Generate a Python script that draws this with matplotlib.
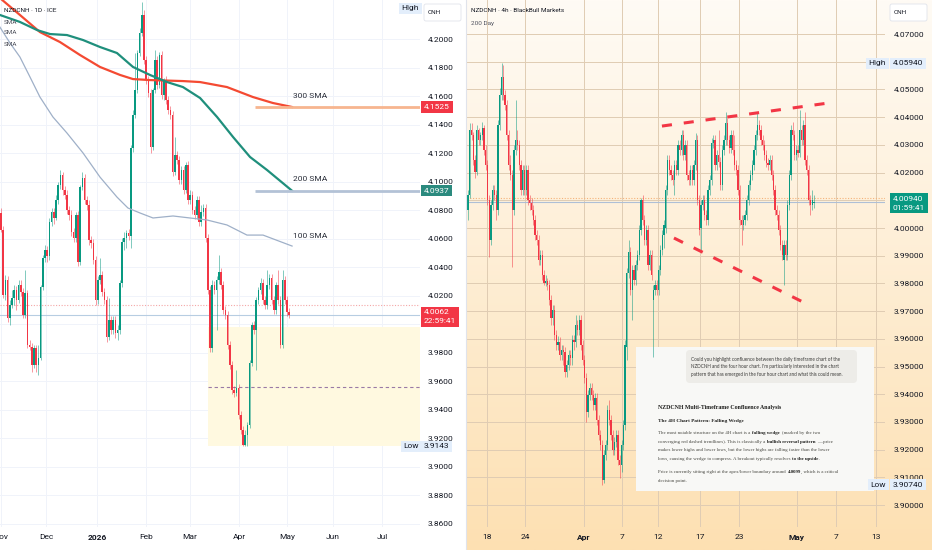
import numpy as np
import matplotlib
matplotlib.use("Agg")
import matplotlib.pyplot as plt
import matplotlib.transforms as mtransforms
from matplotlib.patches import Rectangle, FancyBboxPatch
from matplotlib.lines import Line2D

# ---------------- daily chart (left), one value per bar ----------------
d_open = [4.0781, 4.0661, 4.0205, 4.0310, 4.0044, 4.0135, 4.0184, 4.0240, 4.0170, 4.0275,
          4.0226, 4.0065, 4.0219, 3.9854, 3.9840, 3.9714, 3.9833, 3.9714, 3.9763, 4.0261,
          4.0465, 4.0521, 4.0479, 4.0718, 4.0788, 4.0746, 4.0872, 4.0977, 4.1047, 4.0942,
          4.0907, 4.0802, 4.0767, 4.0647, 4.0605, 4.0767, 4.0437, 4.0963, 4.1026, 4.0872,
          4.0837, 4.0591, 4.0570, 4.0451, 4.0170, 4.0310, 4.0345, 4.0226, 4.0170, 3.9910,
          4.0030, 3.9959, 4.0030, 3.9938, 3.9959, 4.0289, 4.0577, 4.0605, 4.0640, 4.0619,
          4.1237, 4.1469, 4.1644, 4.1904, 4.2044, 4.2171, 4.1855, 4.1714, 4.1623, 4.1244,
          4.1644, 4.1855, 4.1679, 4.1890, 4.1609, 4.1714, 4.1574, 4.1504, 4.1469, 4.1069,
          4.1188, 4.1153, 4.1012, 4.1083, 4.0942, 4.1118, 4.0872, 4.0907, 4.0802, 4.0767,
          4.0872, 4.0718, 4.0788, 4.0816, 4.0605, 4.0240, 3.9833, 4.0275, 4.0240, 4.0310,
          4.0367, 4.0275, 4.0100, 4.0065, 3.9854, 3.9714, 3.9538, 3.9517, 3.9552, 3.9363,
          3.9257, 3.9152, 3.9222, 3.9292, 3.9728, 3.9994, 3.9959, 4.0170, 4.0240, 4.0289,
          4.0170, 4.0135, 4.0275, 4.0324, 4.0170, 4.0100, 4.0275, 4.0170, 3.9854, 4.0310,
          4.0170, 4.0086]
d_high = [4.0816, 4.0689, 4.0345, 4.0338, 4.0170, 4.0240, 4.0275, 4.0268, 4.0310, 4.0310,
          4.0254, 4.0381, 4.0240, 3.9889, 3.9868, 3.9854, 3.9854, 3.9854, 4.0275, 4.0486,
          4.0556, 4.0549, 4.0746, 4.0816, 4.0816, 4.0907, 4.0998, 4.1083, 4.1069, 4.0970,
          4.0942, 4.0830, 4.0802, 4.0675, 4.0788, 4.0795, 4.0977, 4.1069, 4.1055, 4.0900,
          4.0872, 4.0619, 4.0598, 4.0479, 4.0338, 4.0465, 4.0374, 4.0254, 4.0198, 4.0184,
          4.0058, 4.0058, 4.0058, 3.9994, 4.0310, 4.0605, 4.0647, 4.0661, 4.0668, 4.1258,
          4.1504, 4.1904, 4.1925, 4.2079, 4.2262, 4.2206, 4.1883, 4.1742, 4.1651, 4.1658,
          4.1925, 4.1883, 4.1911, 4.1918, 4.1728, 4.1742, 4.1602, 4.1532, 4.1497, 4.1314,
          4.1216, 4.1181, 4.1111, 4.1111, 4.1139, 4.1146, 4.0942, 4.0935, 4.0830, 4.0900,
          4.0900, 4.0837, 4.0844, 4.0844, 4.0633, 4.0268, 4.0310, 4.0303, 4.0338, 4.0486,
          4.0395, 4.0303, 4.0128, 4.0093, 3.9882, 3.9742, 3.9566, 3.9679, 3.9580, 3.9391,
          3.9285, 3.9257, 3.9314, 3.9749, 4.0016, 4.0023, 4.0191, 4.0261, 4.0324, 4.0317,
          4.0198, 4.0381, 4.0353, 4.0353, 4.0198, 4.0296, 4.0381, 4.0198, 4.0381, 4.0338,
          4.0198, 4.0114]
d_low = [4.0647, 4.0184, 4.0170, 4.0016, 3.9994, 4.0114, 4.0135, 4.0100, 4.0149, 4.0198,
         4.0044, 4.0044, 3.9833, 3.9819, 3.9665, 3.9693, 3.9665, 3.9643, 3.9749, 4.0240,
         4.0437, 4.0437, 4.0451, 4.0689, 4.0704, 4.0732, 4.0844, 4.0949, 4.0907, 4.0879,
         4.0774, 4.0732, 4.0619, 4.0577, 4.0577, 4.0409, 4.0416, 4.0942, 4.0844, 4.0802,
         4.0556, 4.0535, 4.0423, 4.0135, 4.0142, 4.0282, 4.0198, 4.0142, 3.9875, 3.9889,
         3.9931, 3.9931, 3.9903, 3.9889, 3.9931, 4.0261, 4.0521, 4.0535, 4.0591, 4.0535,
         4.1209, 4.1448, 4.1623, 4.1883, 4.2023, 4.1827, 4.1686, 4.1595, 4.1202, 4.1223,
         4.1623, 4.1651, 4.1658, 4.1581, 4.1574, 4.1546, 4.1476, 4.1441, 4.1040, 4.1047,
         4.1125, 4.0984, 4.0984, 4.0914, 4.0921, 4.0844, 4.0844, 4.0774, 4.0739, 4.0739,
         4.0689, 4.0689, 4.0760, 4.0577, 4.0212, 3.9805, 3.9805, 4.0212, 3.9959, 4.0282,
         4.0247, 4.0072, 4.0037, 3.9826, 3.9686, 3.9510, 3.9489, 3.9496, 3.9335, 3.9229,
         3.9143, 3.9143, 3.9145, 3.9271, 3.9707, 3.9931, 3.9679, 4.0142, 4.0212, 4.0142,
         4.0107, 4.0107, 4.0247, 4.0142, 4.0072, 4.0072, 4.0142, 3.9833, 3.9833, 4.0142,
         4.0058, 4.0044]
d_close = [4.0661, 4.0205, 4.0310, 4.0044, 4.0135, 4.0184, 4.0240, 4.0170, 4.0275, 4.0226,
           4.0065, 4.0219, 3.9854, 3.9840, 3.9714, 3.9833, 3.9714, 3.9763, 4.0261, 4.0465,
           4.0521, 4.0479, 4.0718, 4.0788, 4.0746, 4.0872, 4.0977, 4.1047, 4.0942, 4.0907,
           4.0802, 4.0767, 4.0647, 4.0605, 4.0767, 4.0437, 4.0963, 4.1026, 4.0872, 4.0837,
           4.0591, 4.0570, 4.0451, 4.0170, 4.0310, 4.0345, 4.0226, 4.0170, 3.9910, 4.0030,
           3.9959, 4.0030, 3.9938, 3.9959, 4.0289, 4.0577, 4.0605, 4.0640, 4.0619, 4.1237,
           4.1469, 4.1644, 4.1904, 4.2044, 4.2171, 4.1855, 4.1714, 4.1623, 4.1244, 4.1644,
           4.1855, 4.1679, 4.1890, 4.1609, 4.1714, 4.1574, 4.1504, 4.1469, 4.1069, 4.1188,
           4.1153, 4.1012, 4.1083, 4.0942, 4.1118, 4.0872, 4.0907, 4.0802, 4.0767, 4.0872,
           4.0718, 4.0788, 4.0816, 4.0605, 4.0240, 3.9833, 4.0275, 4.0240, 4.0310, 4.0367,
           4.0275, 4.0100, 4.0065, 3.9854, 3.9714, 3.9538, 3.9517, 3.9552, 3.9363, 3.9257,
           3.9152, 3.9222, 3.9292, 3.9728, 3.9994, 3.9959, 4.0170, 4.0240, 4.0289, 4.0170,
           4.0135, 4.0275, 4.0324, 4.0170, 4.0100, 4.0275, 4.0170, 3.9854, 4.0310, 4.0170,
           4.0086, 4.0062]

# moving averages (bar index, price)
sma300_x = [-0.5, 8.6, 17.7, 26.8, 35.9, 45.0, 54.1, 60.0, 67.7, 82.7, 90.5, 102.7, 114.5, 123.6, 132.3]
sma300_y = [4.2290, 4.2171, 4.2051, 4.1981, 4.1890, 4.1806, 4.1750, 4.1721, 4.1714, 4.1707, 4.1700,
            4.1665, 4.1595, 4.1553, 4.1525]
sma200_x = [-0.5, 8.6, 16.4, 22.3, 30.0, 37.3, 45.0, 52.7, 60.0, 67.7, 75.5, 82.7, 90.5, 98.2,
            105.5, 113.2, 120.9, 132.3]
sma200_y = [4.2171, 4.2122, 4.2065, 4.2037, 4.2030, 4.1995, 4.1946, 4.1904, 4.1806, 4.1750, 4.1700,
            4.1665, 4.1588, 4.1455, 4.1314, 4.1174, 4.1083, 4.0937]
sma100_x = [-0.5, 4.1, 8.6, 13.2, 17.7, 23.6, 30.0, 37.3, 45.0, 52.7, 57.7, 63.2, 69.1, 78.2, 85.9,
            93.6, 102.7, 111.8, 119.1, 132.3]
sma100_y = [4.2086, 4.1974, 4.1876, 4.1735, 4.1595, 4.1455, 4.1342, 4.1202, 4.1033, 4.0893, 4.0816,
            4.0781, 4.0746, 4.0760, 4.0746, 4.0732, 4.0697, 4.0626, 4.0626, 4.0549]
sma_last = {"300 SMA": 4.1525, "200 SMA": 4.0937, "100 SMA": 4.0549}

d_last, d_prev = 4.0062, 4.0135
d_zone_start, d_zone_top, d_zone_low = 94.1, 3.9980, 3.9143
d_month_pos = [-0.2, 20.5, 43.6, 65.9, 85.9, 108.2, 130.0, 151.0, 173.2]
d_month_lbl = ["Nov", "Dec", "2026", "Feb", "Mar", "Apr", "May", "Jun", "Jul"]

# ---------------- 4h chart (right) ----------------
h_open = [4.0065, 4.0119, 4.0354, 4.0336, 4.0245, 4.0202, 4.0354, 4.0318, 4.0336, 4.0361,
          4.0282, 4.0227, 4.0101, 3.9957, 4.0083, 4.0137, 4.0119, 4.0065, 4.0372, 4.0480,
          4.0545, 4.0480, 4.0444, 4.0336, 4.0227, 4.0191, 4.0065, 4.0282, 4.0318, 4.0300,
          4.0227, 4.0137, 4.0209, 4.0137, 4.0209, 4.0101, 4.0090, 4.0065, 4.0029, 3.9975,
          3.9957, 3.9884, 3.9903, 3.9830, 3.9801, 3.9809, 3.9794, 3.9740, 3.9675, 3.9704,
          3.9614, 3.9578, 3.9588, 3.9542, 3.9560, 3.9552, 3.9480, 3.9505, 3.9542, 3.9531,
          3.9596, 3.9588, 3.9650, 3.9632, 3.9668, 3.9578, 3.9523, 3.9458, 3.9336, 3.9397,
          3.9422, 3.9397, 3.9361, 3.9386, 3.9307, 3.9253, 3.9217, 3.9090, 3.9181, 3.9217,
          3.9343, 3.9307, 3.9253, 3.9199, 3.9227, 3.9253, 3.9162, 3.9144, 3.9217, 3.9289,
          3.9570, 3.9838, 3.9913, 3.9776, 3.9848, 3.9812, 3.9866, 3.9903, 3.9993, 4.0101,
          4.0029, 3.9957, 3.9993, 3.9866, 3.9903, 3.9740, 3.9776, 3.9794, 3.9776, 3.9848,
          3.9921, 3.9975, 4.0000, 4.0137, 4.0245, 4.0209, 4.0191, 4.0173, 4.0227, 4.0209,
          4.0300, 4.0282, 4.0336, 4.0264, 4.0300, 4.0191, 4.0173, 4.0209, 4.0173, 4.0227,
          4.0318, 4.0101, 4.0000, 4.0083, 4.0101, 4.0047, 4.0029, 4.0137, 4.0173, 4.0307,
          4.0318, 4.0227, 4.0264, 4.0238, 4.0155, 4.0282, 4.0318, 4.0379, 4.0318, 4.0289,
          4.0336, 4.0282, 4.0227, 4.0209, 4.0137, 4.0029, 4.0011, 4.0029, 4.0047, 4.0101,
          4.0155, 4.0191, 4.0227, 4.0282, 4.0336, 4.0372, 4.0354, 4.0318, 4.0300, 4.0264,
          4.0235, 4.0227, 4.0245, 4.0191, 4.0137, 4.0065, 4.0047, 3.9993, 3.9939, 3.9884,
          3.9939, 3.9903, 4.0083, 4.0191, 4.0354, 4.0336, 4.0264, 4.0282, 4.0271, 4.0354,
          4.0318, 4.0372, 4.0245, 4.0209, 4.0101, 4.0083, 4.0090]
h_high = [4.0137, 4.0379, 4.0379, 4.0347, 4.0264, 4.0372, 4.0361, 4.0347, 4.0383, 4.0372,
          4.0300, 4.0245, 4.0119, 4.0101, 4.0155, 4.0155, 4.0137, 4.0390, 4.0505, 4.0594,
          4.0588, 4.0498, 4.0462, 4.0354, 4.0264, 4.0209, 4.0300, 4.0462, 4.0354, 4.0318,
          4.0245, 4.0227, 4.0227, 4.0227, 4.0227, 4.0119, 4.0108, 4.0083, 4.0047, 3.9993,
          3.9975, 3.9921, 3.9921, 3.9848, 3.9830, 3.9820, 3.9812, 3.9758, 3.9722, 3.9722,
          3.9632, 3.9610, 3.9606, 3.9578, 3.9578, 3.9570, 3.9523, 3.9560, 3.9560, 3.9614,
          3.9614, 3.9686, 3.9668, 3.9686, 3.9686, 3.9596, 3.9541, 3.9476, 3.9415, 3.9440,
          3.9440, 3.9415, 3.9404, 3.9404, 3.9325, 3.9271, 3.9235, 3.9199, 3.9235, 3.9361,
          3.9379, 3.9325, 3.9271, 3.9245, 3.9271, 3.9271, 3.9180, 3.9235, 3.9307, 3.9596,
          3.9856, 3.9957, 3.9931, 3.9866, 3.9866, 3.9884, 3.9921, 4.0011, 4.0108, 4.0119,
          4.0047, 4.0011, 4.0011, 3.9921, 3.9921, 3.9794, 3.9812, 3.9812, 3.9866, 3.9939,
          3.9993, 4.0029, 4.0155, 4.0264, 4.0264, 4.0227, 4.0209, 4.0245, 4.0245, 4.0318,
          4.0318, 4.0354, 4.0354, 4.0318, 4.0318, 4.0209, 4.0227, 4.0227, 4.0245, 4.0343,
          4.0336, 4.0119, 4.0101, 4.0119, 4.0119, 4.0065, 4.0155, 4.0191, 4.0325, 4.0336,
          4.0336, 4.0282, 4.0354, 4.0256, 4.0300, 4.0336, 4.0419, 4.0397, 4.0336, 4.0354,
          4.0354, 4.0336, 4.0245, 4.0227, 4.0155, 4.0047, 4.0047, 4.0065, 4.0119, 4.0173,
          4.0209, 4.0245, 4.0300, 4.0354, 4.0415, 4.0390, 4.0372, 4.0336, 4.0318, 4.0282,
          4.0253, 4.0264, 4.0264, 4.0209, 4.0155, 4.0083, 4.0065, 4.0011, 3.9957, 3.9957,
          3.9957, 4.0101, 4.0209, 4.0372, 4.0383, 4.0354, 4.0300, 4.0300, 4.0426, 4.0372,
          4.0390, 4.0419, 4.0264, 4.0227, 4.0119, 4.0137, 4.0119]
h_low = [4.0029, 4.0108, 4.0318, 4.0227, 4.0181, 4.0191, 4.0300, 4.0300, 4.0318, 4.0264,
         4.0209, 4.0083, 3.9895, 3.9939, 4.0065, 4.0101, 4.0029, 4.0047, 4.0354, 4.0462,
         4.0462, 4.0426, 4.0318, 4.0209, 4.0173, 3.9859, 4.0047, 4.0264, 4.0282, 4.0209,
         4.0119, 4.0119, 4.0119, 4.0119, 4.0083, 4.0065, 4.0047, 4.0011, 3.9957, 3.9939,
         3.9866, 3.9866, 3.9812, 3.9794, 3.9790, 3.9776, 3.9722, 3.9650, 3.9650, 3.9596,
         3.9560, 3.9560, 3.9523, 3.9523, 3.9505, 3.9462, 3.9462, 3.9487, 3.9505, 3.9505,
         3.9560, 3.9570, 3.9614, 3.9614, 3.9560, 3.9505, 3.9440, 3.9300, 3.9318, 3.9379,
         3.9379, 3.9343, 3.9343, 3.9289, 3.9235, 3.9199, 3.9074, 3.9080, 3.9163, 3.9199,
         3.9289, 3.9235, 3.9181, 3.9181, 3.9209, 3.9144, 3.9097, 3.9120, 3.9199, 3.9271,
         3.9523, 3.9820, 3.9758, 3.9668, 3.9794, 3.9794, 3.9848, 3.9884, 3.9975, 4.0011,
         3.9939, 3.9939, 3.9848, 3.9848, 3.9812, 3.9534, 3.9758, 3.9758, 3.9758, 3.9830,
         3.9903, 3.9928, 3.9982, 4.0119, 4.0191, 4.0173, 4.0155, 4.0119, 4.0191, 4.0191,
         4.0264, 4.0264, 4.0245, 4.0245, 4.0173, 4.0155, 4.0155, 4.0155, 4.0155, 4.0209,
         4.0083, 3.9975, 3.9921, 4.0065, 4.0029, 4.0011, 4.0011, 4.0119, 4.0155, 4.0289,
         4.0209, 4.0209, 4.0220, 4.0137, 4.0137, 4.0264, 4.0300, 4.0300, 4.0271, 4.0271,
         4.0264, 4.0209, 4.0191, 4.0119, 4.0011, 3.9939, 3.9993, 4.0011, 4.0029, 4.0083,
         4.0137, 4.0173, 4.0209, 4.0264, 4.0318, 4.0336, 4.0300, 4.0282, 4.0245, 4.0220,
         4.0209, 4.0209, 4.0173, 4.0119, 4.0047, 4.0029, 3.9975, 3.9921, 3.9884, 3.9794,
         3.9884, 3.9884, 4.0065, 4.0173, 4.0318, 4.0245, 4.0245, 4.0256, 4.0256, 4.0300,
         4.0300, 4.0227, 4.0191, 4.0083, 4.0047, 4.0065, 4.0072]
h_close = [4.0119, 4.0354, 4.0336, 4.0245, 4.0202, 4.0354, 4.0318, 4.0336, 4.0361, 4.0282,
           4.0227, 4.0101, 3.9957, 4.0083, 4.0137, 4.0119, 4.0065, 4.0372, 4.0480, 4.0545,
           4.0480, 4.0444, 4.0336, 4.0227, 4.0191, 4.0065, 4.0282, 4.0318, 4.0300, 4.0227,
           4.0137, 4.0209, 4.0137, 4.0209, 4.0101, 4.0090, 4.0065, 4.0029, 3.9975, 3.9957,
           3.9884, 3.9903, 3.9830, 3.9801, 3.9809, 3.9794, 3.9740, 3.9675, 3.9704, 3.9614,
           3.9578, 3.9588, 3.9542, 3.9560, 3.9552, 3.9480, 3.9505, 3.9542, 3.9531, 3.9596,
           3.9588, 3.9650, 3.9632, 3.9668, 3.9578, 3.9523, 3.9458, 3.9336, 3.9397, 3.9422,
           3.9397, 3.9361, 3.9386, 3.9307, 3.9253, 3.9217, 3.9090, 3.9181, 3.9217, 3.9343,
           3.9307, 3.9253, 3.9199, 3.9227, 3.9253, 3.9162, 3.9144, 3.9217, 3.9289, 3.9578,
           3.9838, 3.9913, 3.9776, 3.9848, 3.9812, 3.9866, 3.9903, 3.9993, 4.0101, 4.0029,
           3.9957, 3.9993, 3.9866, 3.9903, 3.9830, 3.9776, 3.9794, 3.9776, 3.9848, 3.9921,
           3.9975, 4.0011, 4.0137, 4.0245, 4.0209, 4.0191, 4.0173, 4.0227, 4.0209, 4.0300,
           4.0282, 4.0336, 4.0264, 4.0300, 4.0191, 4.0173, 4.0209, 4.0173, 4.0227, 4.0318,
           4.0101, 3.9993, 4.0083, 4.0101, 4.0047, 4.0029, 4.0137, 4.0173, 4.0307, 4.0318,
           4.0227, 4.0264, 4.0238, 4.0155, 4.0282, 4.0318, 4.0379, 4.0318, 4.0289, 4.0336,
           4.0282, 4.0227, 4.0209, 4.0137, 4.0029, 4.0011, 4.0029, 4.0047, 4.0101, 4.0155,
           4.0191, 4.0227, 4.0282, 4.0336, 4.0372, 4.0354, 4.0318, 4.0300, 4.0264, 4.0235,
           4.0227, 4.0245, 4.0191, 4.0137, 4.0065, 4.0047, 3.9993, 3.9939, 3.9903, 3.9939,
           3.9903, 4.0083, 4.0191, 4.0354, 4.0336, 4.0264, 4.0282, 4.0271, 4.0354, 4.0318,
           4.0372, 4.0245, 4.0209, 4.0101, 4.0083, 4.0101, 4.0094]

h_last, h_prev = 4.0094, 4.0108
h_high_val, h_low_val = 4.0594, 3.9074
wedge_upper_x, wedge_upper_y = [109.9, 204.0], [4.0368, 4.0451]
wedge_lower_x, wedge_lower_y = [116.7, 189.8], [3.9964, 3.9733]
h_day_pos = [10.8, 32.3, 65.7, 87.3, 107.6, 131.4, 153.5, 186.4, 208.5, 231.2]
h_day_lbl = ["18", "24", "Apr", "7", "12", "17", "23", "May", "7", "13"]

# ---------------- chat overlay text ----------------
user_lines = ["Could you highlight confluence between the daily timeframe chart of the",
              "NZDCNH and the four hour chart. I'm particularly interested in the chart",
              "pattern that has emerged in the four hour chart and what this could mean."]
answer_title = "NZDCNH Multi-Timeframe Confluence Analysis"
answer_sub = "The 4H Chart Pattern: Falling Wedge"
answer_lines = [
    [("The most notable structure on the 4H chart is a ", False), ("falling wedge", True),
     (" (marked by the two", False)],
    [("converging red dashed trendlines). This is classically a ", False),
     ("bullish reversal pattern", True), (" \u2014 price", False)],
    [("makes lower highs and lower lows, but the lower highs are falling faster than the lower", False)],
    [("lows, causing the wedge to compress. A breakout typically resolves ", False),
     ("to the upside", True), (".", False)],
    [("Price is currently sitting right at the apex/lower boundary around ", False), ("4.0099", True),
     (", which is a critical", False)],
    [("decision point.", False)],
]

W, H = 932, 550
UP, DOWN = "#089981", "#f23645"
TXT = "#131722"
plt.rcParams['font.family'] = ['Roboto', 'DejaVu Sans']

fig = plt.figure(figsize=(W / 100, H / 100), dpi=100)
fig.patch.set_facecolor("white")
# pixel coordinates, origin at the top left of the picture
PX = mtransforms.Affine2D().scale(1 / W, -1 / H).translate(0, 1) + fig.transFigure


def draw_candles(ax, o, h, l, c, width):
    o, h, l, c = (np.asarray(v) for v in (o, h, l, c))
    x = np.arange(len(c))
    col = np.where(c >= o, UP, DOWN)
    ax.vlines(x, l, h, colors=col, lw=0.6, alpha=0.6, zorder=3)
    body = np.maximum(np.abs(c - o), 0.0004)
    ax.bar(x, body, bottom=np.minimum(o, c), width=width, color=col, lw=0, zorder=4)


def tag(ax, y, txt, fc, tc, dx, ha="left", va="center", dy=0, size=6):
    tr = mtransforms.offset_copy(ax.get_yaxis_transform(), fig=fig, x=dx, y=dy, units="dots")
    ax.text(1, y, txt, transform=tr, ha=ha, va=va, fontsize=size, color=tc, linespacing=1.55,
            bbox=dict(boxstyle="square,pad=0.32", fc=fc, ec="none"), zorder=10, clip_on=False)


def style_axes(ax, yticks, fmt, xpos, xlbl, bold, gridcol, pad_y):
    for s in ax.spines.values():
        s.set_visible(False)
    ax.yaxis.tick_right()
    ax.set_yticks(yticks)
    ax.set_yticklabels([fmt % v for v in yticks])
    ax.set_xticks(xpos)
    ax.set_xticklabels(xlbl)
    for t in ax.get_xticklabels():
        if t.get_text() in bold:
            t.set_fontweight("bold")
    ax.tick_params(axis="y", length=0, pad=pad_y, labelsize=6, labelcolor=TXT)
    ax.tick_params(axis="x", length=0, pad=5, labelsize=6, labelcolor=TXT)
    ax.grid(True, color=gridcol, lw=0.7, zorder=0)
    ax.set_axisbelow(True)


# right half background gradient
bg = fig.add_axes([467 / W, 0, 1 - 467 / W, 1])
grad = np.linspace([255, 251, 245], [253, 224, 178], 256)[:, None, :] / 255.0
bg.imshow(grad, aspect="auto", extent=[0, 1, 0, 1])
bg.axis("off")
fig.add_artist(Line2D([466, 466], [0, H], transform=PX, color="#e0e3eb", lw=0.8))

# ================= left: daily chart =================
ax1 = fig.add_axes([0, 23 / H, 420 / W, 527 / H])
ax1.set_facecolor("white")
ax1.set_xlim(-0.45, 190.45)
ax1.set_ylim(3.8577, 4.2276)
style_axes(ax1, np.round(np.arange(3.86, 4.2001, 0.02), 2), "%.4f", d_month_pos, d_month_lbl,
           {"2026"}, "#f0f3fa", 5.5)

ax1.add_patch(Rectangle((d_zone_start, d_zone_low), 190.45 - d_zone_start, d_zone_top - d_zone_low,
                        fc="#fff9e0", ec="none", zorder=1))
ax1.hlines((d_zone_top + d_zone_low) / 2, d_zone_start, 190.45, color="#9a7aa6", lw=0.8,
           ls=(0, (3, 2.5)), zorder=2)
ax1.axhline(d_prev, color="#f4a7a7", lw=0.8, ls=(0, (1, 1.5)), zorder=2)
ax1.axhline(d_last, color="#b7cde2", lw=0.8, zorder=2)

draw_candles(ax1, d_open, d_high, d_low, d_close, 0.7)

ax1.plot(sma100_x, sma100_y, color="#9fb0c8", lw=0.9, zorder=5)
ax1.plot(sma300_x, sma300_y, color="#f44a32", lw=1.6, zorder=5)
ax1.plot(sma200_x, sma200_y, color="#1f8f7c", lw=1.6, zorder=5)
ax1.hlines(sma_last["300 SMA"], 115.5, 190.45, color="#f7b58f", lw=2, zorder=5)
ax1.hlines(sma_last["200 SMA"], 115.5, 190.45, color="#b3c2d6", lw=2, zorder=5)
for name, yv, dyv in [("300 SMA", sma_last["300 SMA"], 0.0077),
                      ("200 SMA", sma_last["200 SMA"], 0.0080),
                      ("100 SMA", sma_last["100 SMA"], 0.0070)]:
    ax1.text(132.8, yv + dyv, name, fontsize=6, color="#2a2e39", va="center", ha="left", zorder=6)

tag(ax1, sma_last["300 SMA"], "4.1525", "#f23645", "white", 4)
tag(ax1, sma_last["200 SMA"], "4.0937", "#2b8a7e", "white", 4)
tag(ax1, d_last, "4.0062\n22:59:41", "#f23645", "white", 4, va="top", dy=6)
tag(ax1, d_zone_low, "Low", "#e3eefb", TXT, -1, ha="right")
tag(ax1, d_zone_low, "3.9143", "#e3eefb", TXT, 4)
ax1.text(419, 8, "High", transform=PX, ha="right", va="center", fontsize=6, color=TXT,
         bbox=dict(boxstyle="square,pad=0.3", fc="#e3eefb", ec="none"), zorder=10, clip_on=False)

fig.text(4 / W, 1 - 11 / H, "NZDCNH \u00b7 1D \u00b7 ICE", fontsize=4.6, color=TXT, va="center")
for yy in [23, 33, 44]:
    fig.text(4 / W, 1 - yy / H, "SMA", fontsize=4.6, color="#50535e", va="center")

# ================= right: 4h chart =================
ax2 = fig.add_axes([467 / W, 23 / H, 418 / W, 527 / H])
ax2.patch.set_alpha(0)
ax2.set_xlim(-0.57, 236.3)
ax2.set_ylim(3.8921, 4.0823)
style_axes(ax2, np.round(np.arange(3.90, 4.0701, 0.01), 2), "%.5f", h_day_pos, h_day_lbl,
           {"Apr", "May"}, (0.88, 0.80, 0.70, 0.2), 6.5)

ax2.axhline(h_prev, color="#f5b27a", lw=0.8, ls=(0, (1, 1.5)), zorder=2)
ax2.axhline(h_last, color="#aebfd6", lw=0.8, zorder=2)

# chat overlay panel (behind the candles)
ax2.add_patch(Rectangle((636, 347), 238, 144, transform=PX, fc="#f8f8f6", ec="none", zorder=1))
ax2.add_patch(FancyBboxPatch((686, 350), 171, 33, boxstyle="round,pad=0,rounding_size=4",
                             transform=PX, fc="#edece8", ec="none", zorder=1.5))

draw_candles(ax2, h_open, h_high, h_low, h_close, 0.7)

ax2.plot(wedge_upper_x, wedge_upper_y, color="#f23645", lw=2.2, ls=(0, (3.3, 3.9)), zorder=6)
ax2.plot(wedge_lower_x, wedge_lower_y, color="#f23645", lw=2.2, ls=(0, (3.3, 3.9)), zorder=6)

tag(ax2, h_last, "4.00940\n01:59:41", "#089981", "white", 8, va="top", dy=6)
tag(ax2, h_high_val, "High", "#e3eefb", TXT, 1, ha="right")
tag(ax2, h_high_val, "4.05940", "#e3eefb", TXT, 8)
tag(ax2, h_low_val, "Low", "#e3eefb", TXT, 1, ha="right")
tag(ax2, h_low_val, "3.90740", "#e3eefb", TXT, 8)

fig.text(471 / W, 1 - 11 / H, "NZDCNH \u00b7 4h \u00b7 BlackBull Markets", fontsize=4.6, color=TXT,
         va="center")
fig.text(471 / W, 1 - 23 / H, "200 Day", fontsize=4.6, color="#50535e", va="center")

# currency boxes
for x0 in (424, 890):
    fig.add_artist(FancyBboxPatch((x0, 4), 37, 17, boxstyle="round,pad=0,rounding_size=2",
                                  transform=PX, fc="white", ec="#e0e3eb", lw=0.6))
    fig.text((x0 + 4) / W, 1 - 12.5 / H, "CNH", fontsize=4.6, color=TXT, va="center")

# chat text
renderer = fig.canvas.get_renderer()
SERIF = ["Liberation Serif", "DejaVu Serif"]
for k, line in enumerate(user_lines):
    ax2.text(691, 359 + 7.6 * k, line, transform=PX, fontsize=3.3, color="#3a3a38",
             family=["Lato", "DejaVu Sans"], va="center", zorder=7)
ax2.text(658, 407, answer_title, transform=PX, fontsize=4.2, fontweight="bold", color="#1f1f1d",
         family=SERIF, va="center", zorder=7)
ax2.text(658, 421, answer_sub, transform=PX, fontsize=3.8, fontweight="bold", color="#1f1f1d",
         family=SERIF, va="center", zorder=7)


def text_width(s, size, bold):
    t = ax2.text(0, 0, s, fontsize=size, family=SERIF, fontweight="bold" if bold else "normal")
    w = t.get_window_extent(renderer).width
    t.remove()
    return w


line_y = [433.3, 441.8, 450.3, 458.8, 472.0, 480.6]
SZ = 3.55
for line, yy in zip(answer_lines, line_y):
    x = 658.0
    for txt, bold in line:
        sp = text_width("a a", SZ, bold) - text_width("aa", SZ, bold) + 0.6
        lead = len(txt) - len(txt.lstrip(" "))
        trail = len(txt) - len(txt.rstrip(" "))
        x += lead * sp
        t = ax2.text(x, yy, txt.strip(), transform=PX, fontsize=SZ, family=SERIF,
                     fontweight="bold" if bold else "normal",
                     color="#1f1f1d" if bold else "#45453f", va="center", zorder=7)
        x += t.get_window_extent(renderer).width + trail * sp

fig.savefig("out.png", dpi=100)
